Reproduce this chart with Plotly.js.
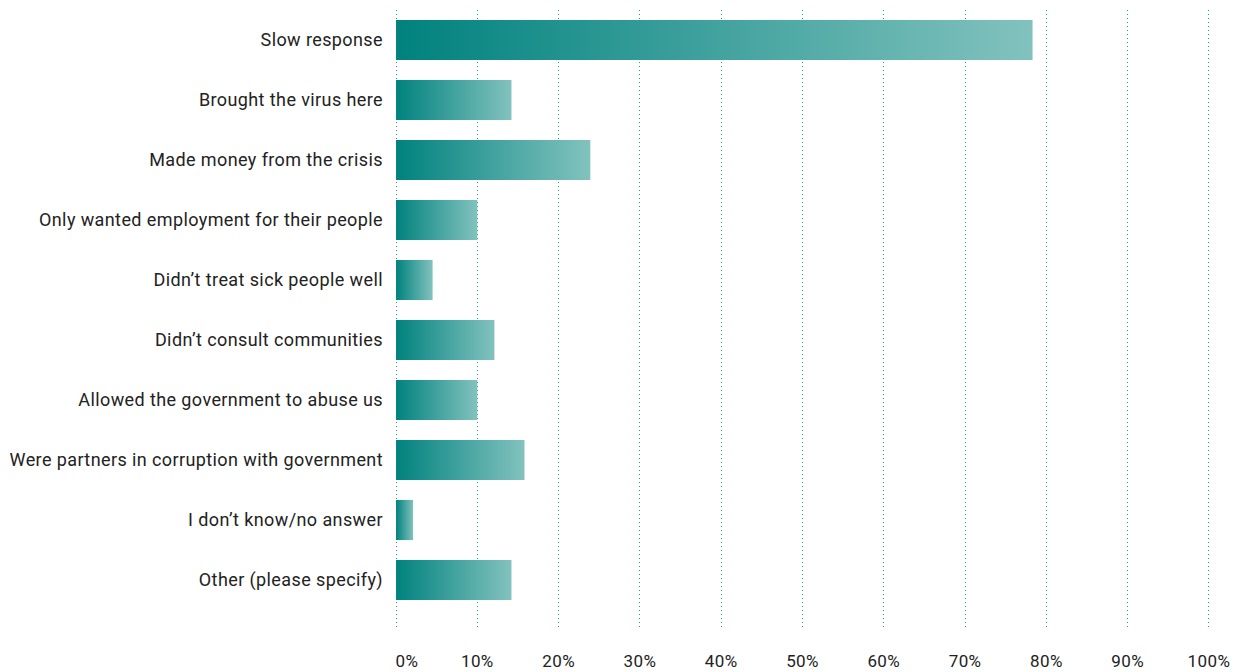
<!DOCTYPE html>
<html>
<head>
<meta charset="utf-8">
<script src="https://cdn.plot.ly/plotly-3.0.1.min.js"></script>
<style>
  html, body { margin: 0; padding: 0; background: #ffffff; }
  #chart { width: 1242px; height: 672px; }
  #chart .ytick text, #chart .xtick text { letter-spacing: 0.4px; }
  #chart .gridlayer path { shape-rendering: crispEdges; }
</style>
</head>
<body>
<div id="chart"></div>
<script>
const categories = [
  "Slow response",
  "Brought the virus here",
  "Made money from the crisis",
  "Only wanted employment for their people",
  "Didn’t treat sick people well",
  "Didn’t consult communities",
  "Allowed the government to abuse us",
  "Were partners in corruption with government",
  "I don’t know/no answer",
  "Other (please specify)"
];
const values = [78.3, 14.2, 23.9, 10.0, 4.5, 12.1, 10.0, 15.8, 2.1, 14.2];
const tickValues = [0, 10, 20, 30, 40, 50, 60, 70, 80, 90, 100];
const tickLabels = ["0%", "10%", "20%", "30%", "40%", "50%", "60%", "70%", "80%", "90%", "100%"];

const trace = {
  type: "bar",
  orientation: "h",
  y: categories,
  x: values,
  marker: { color: "#2a9a97", line: { width: 0 } },
  hoverinfo: "x+y"
};

const layout = {
  width: 1242,
  height: 672,
  margin: { l: 394, r: 31, t: 10, b: 42, pad: 0 },
  paper_bgcolor: "#ffffff",
  plot_bgcolor: "#ffffff",
  bargap: 0.333,
  showlegend: false,
  font: { family: "Roboto, 'Open Sans', sans-serif", size: 18, color: "#222222" },
  xaxis: {
    range: [-0.25, 100.25],
    tickvals: tickValues,
    ticktext: tickLabels,
    showgrid: true,
    gridcolor: "#15a09b",
    griddash: "1px,3px",
    gridwidth: 1,
    zeroline: false,
    showline: false,
    ticks: "",
    ticklabelstandoff: 19,
    tickfont: { size: 17, color: "#222222" },
    fixedrange: true
  },
  yaxis: {
    type: "category",
    categoryorder: "array",
    categoryarray: categories,
    range: [9.833, -0.5],
    showgrid: false,
    zeroline: false,
    showline: false,
    ticks: "",
    ticklabelstandoff: 10,
    tickfont: { size: 18, color: "#222222" },
    fixedrange: true
  }
};

Plotly.newPlot("chart", [trace], layout, { displayModeBar: false, staticPlot: true }).then(function (gd) {
  const svgNS = "http://www.w3.org/2000/svg";
  const svg = gd.querySelector(".main-svg");
  let defs = svg.querySelector("defs");
  if (!defs) { defs = document.createElementNS(svgNS, "defs"); svg.insertBefore(defs, svg.firstChild); }
  const grad = document.createElementNS(svgNS, "linearGradient");
  grad.setAttribute("id", "barGrad");
  grad.setAttribute("x1", "0"); grad.setAttribute("y1", "0");
  grad.setAttribute("x2", "1"); grad.setAttribute("y2", "0");
  const s1 = document.createElementNS(svgNS, "stop");
  s1.setAttribute("offset", "0"); s1.setAttribute("stop-color", "#00827e");
  const s2 = document.createElementNS(svgNS, "stop");
  s2.setAttribute("offset", "1"); s2.setAttribute("stop-color", "#82c2be");
  grad.appendChild(s1); grad.appendChild(s2);
  defs.appendChild(grad);
  gd.querySelectorAll(".bars .point path").forEach(function (p) {
    p.style.fill = "url(#barGrad)";
    p.style.fillOpacity = "1";
  });
  const firstTick = gd.querySelector(".xtick text");
  if (firstTick) { firstTick.setAttribute("dx", "11"); }
});
</script>
</body>
</html>
